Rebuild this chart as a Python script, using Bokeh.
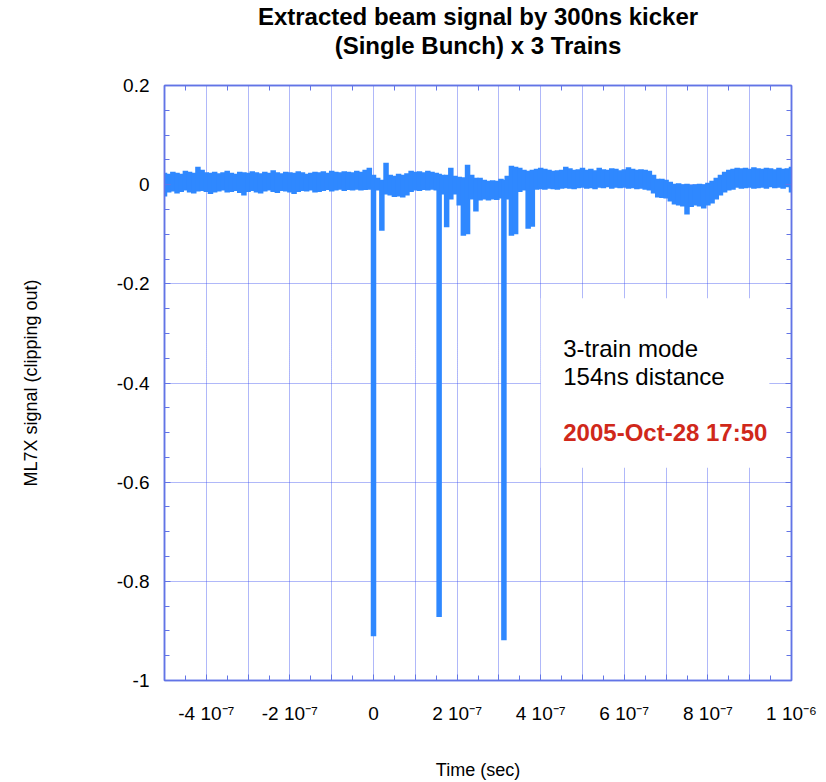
import numpy as np
from bokeh.plotting import figure
from bokeh.models import (LinearAxis, FixedTicker, CustomJSTickFormatter, Title,
                          BoxAnnotation, Label, ColumnDataSource)
from bokeh.embed import file_html
from bokeh.resources import INLINE

# ---- data: per time bin (ns), signal min / max envelope ----
time_ns = [
    -500, -490, -480, -470, -460, -450, -440, -430, -420, -410,
    -400, -390, -380, -370, -360, -350, -340, -330, -320, -310,
    -300, -290, -280, -270, -260, -250, -240, -230, -220, -210,
    -200, -190, -180, -170, -160, -150, -140, -130, -120, -110,
    -100, -90, -80, -70, -60, -50, -40, -30, -20, -10,
    0, 10, 20, 30, 40, 50, 60, 70, 80, 90,
    100, 110, 120, 130, 140, 150, 157, 165, 175, 185,
    195, 205, 215, 225, 235, 245, 255, 265, 275, 285,
    295, 305, 312, 320, 330, 340, 350, 360, 370, 380,
    390, 400, 410, 420, 430, 440, 450, 460, 470, 480,
    490, 500, 510, 520, 530, 540, 550, 560, 570, 580,
    590, 600, 610, 620, 630, 640, 650, 660, 670, 680,
    690, 700, 710, 720, 730, 740, 750, 760, 770, 780,
    790, 800, 810, 820, 830, 840, 850, 860, 870, 880,
    890, 900, 910, 920, 930, 940, 950, 960, 970, 980,
    990, 1000,
]
signal_min = [
    -0.024, -0.016, -0.014, -0.018, -0.015, -0.012, -0.016, -0.018, -0.014, -0.013,
    -0.015, -0.019, -0.016, -0.014, -0.012, -0.016, -0.015, -0.013, -0.017, -0.022,
    -0.015, -0.013, -0.016, -0.018, -0.014, -0.012, -0.015, -0.017, -0.013, -0.014,
    -0.016, -0.019, -0.015, -0.013, -0.014, -0.012, -0.016, -0.015, -0.013, -0.011,
    -0.014, -0.012, -0.010, -0.013, -0.011, -0.012, -0.010, -0.012, -0.011, -0.010,
    -0.911, -0.012, -0.093, -0.020, -0.022, -0.025, -0.024, -0.026, -0.022, -0.015,
    -0.012, -0.013, -0.011, -0.012, -0.010, -0.012, -0.872, -0.020, -0.086, -0.030,
    -0.020, -0.042, -0.103, -0.100, -0.030, -0.054, -0.032, -0.030, -0.032, -0.030,
    -0.031, -0.028, -0.919, -0.030, -0.103, -0.100, -0.015, -0.012, -0.089, -0.085,
    -0.010, -0.009, -0.010, -0.008, -0.009, -0.010, -0.008, -0.007, -0.008, -0.009,
    -0.007, -0.006, -0.008, -0.007, -0.009, -0.006, -0.007, -0.005, -0.008, -0.006,
    -0.007, -0.006, -0.008, -0.007, -0.009, -0.008, -0.010, -0.012, -0.018, -0.026,
    -0.027, -0.028, -0.034, -0.040, -0.042, -0.044, -0.060, -0.045, -0.042, -0.044,
    -0.048, -0.042, -0.038, -0.030, -0.022, -0.016, -0.012, -0.010, -0.006, -0.008,
    -0.007, -0.006, -0.008, -0.007, -0.006, -0.008, -0.005, -0.007, -0.006, -0.008,
    -0.005, -0.016,
]
signal_max = [
    0.024, 0.022, 0.026, 0.024, 0.022, 0.028, 0.026, 0.024, 0.036, 0.030,
    0.025, 0.024, 0.026, 0.023, 0.025, 0.028, 0.024, 0.022, 0.026, 0.025,
    0.024, 0.027, 0.025, 0.023, 0.026, 0.024, 0.029, 0.025, 0.023, 0.026,
    0.025, 0.024, 0.027, 0.025, 0.022, 0.024, 0.026, 0.025, 0.027, 0.024,
    0.028, 0.026, 0.025, 0.027, 0.026, 0.025, 0.028, 0.026, 0.030, 0.034,
    0.020, 0.014, 0.010, 0.044, 0.020, 0.018, 0.022, 0.020, 0.023, 0.028,
    0.026, 0.027, 0.025, 0.028, 0.026, 0.024, 0.022, 0.020, 0.020, 0.034,
    0.018, 0.016, 0.015, 0.040, 0.020, 0.014, 0.014, 0.010, 0.008, 0.009,
    0.008, 0.012, 0.010, 0.018, 0.038, 0.036, 0.034, 0.030, 0.028, 0.030,
    0.032, 0.034, 0.032, 0.030, 0.028, 0.029, 0.030, 0.036, 0.033, 0.030,
    0.031, 0.034, 0.030, 0.032, 0.029, 0.034, 0.031, 0.030, 0.033, 0.032,
    0.029, 0.031, 0.035, 0.032, 0.030, 0.031, 0.030, 0.028, 0.020, 0.012,
    0.012, 0.010, 0.006, 0.002, 0.003, 0.001, 0.002, 0.000, 0.001, 0.002,
    0.001, 0.004, 0.008, 0.014, 0.020, 0.026, 0.030, 0.032, 0.034, 0.033,
    0.034, 0.032, 0.035, 0.033, 0.032, 0.034, 0.033, 0.031, 0.034, 0.032,
    0.033, 0.036,
]

x_tick_ns = [-400, -200, 0, 200, 400, 600, 800, 1000]
x_tick_labels = ["-4 10\u207b\u2077", "-2 10\u207b\u2077", "0", "2 10\u207b\u2077",
                 "4 10\u207b\u2077", "6 10\u207b\u2077", "8 10\u207b\u2077", "1 10\u207b\u2076"]
y_tick_values = [0.2, 0.0, -0.2, -0.4, -0.6, -0.8, -1.0]
y_tick_labels = ["0.2", "0", "-0.2", "-0.4", "-0.6", "-0.8", "-1"]

title_lines = ["Extracted beam signal by 300ns kicker", "(Single Bunch) x 3 Trains"]
note_lines = ["3-train mode", "154ns distance"]
timestamp = "2005-Oct-28 17:50"

FONT = "Liberation Sans"
AXIS_BLUE = "#6274e6"
LINE_BLUE = "#2f88ff"

t_sec = np.array(time_ns) * 1e-9
src = ColumnDataSource(dict(t=t_sec, lo=signal_min, hi=signal_max))

p = figure(width=826, height=782, x_range=(-5e-7, 1e-6), y_range=(-1.0, 0.2),
           output_backend="svg", toolbar_location=None, title=None,
           min_border_left=164, min_border_right=35, min_border_top=85, min_border_bottom=101,
           x_axis_label="Time (sec)", y_axis_label="ML7X signal (clipping out)")
p.background_fill_color = "white"
p.border_fill_color = "white"
p.outline_line_color = AXIS_BLUE
p.outline_line_width = 1.5

x_ticker = FixedTicker(ticks=[round(i * 1e-7, 12) for i in range(-5, 11)],
                       minor_ticks=[round((i + 0.5) * 1e-7, 12) for i in range(-5, 10)])
y_ticker = FixedTicker(ticks=y_tick_values,
                       minor_ticks=[round(-1.0 + 0.05 * i, 6) for i in range(25)])

x_fmt = CustomJSTickFormatter(args=dict(ns=x_tick_ns, lab=x_tick_labels), code="""
    const n = Math.round(tick * 1e9);
    const i = ns.indexOf(n);
    return i < 0 ? '' : lab[i];
""")
y_fmt = CustomJSTickFormatter(args=dict(v=y_tick_values, lab=y_tick_labels), code="""
    for (let i = 0; i < v.length; i++) { if (Math.abs(v[i] - tick) < 1e-9) return lab[i]; }
    return '';
""")
blank_fmt = CustomJSTickFormatter(code="return '';")


def style_axis(ax):
    ax.axis_line_color = AXIS_BLUE
    ax.axis_line_width = 1.5
    ax.major_tick_line_color = AXIS_BLUE
    ax.minor_tick_line_color = AXIS_BLUE
    ax.major_tick_in = 6
    ax.major_tick_out = 0
    ax.minor_tick_in = 5
    ax.minor_tick_out = 0
    ax.major_label_text_font = FONT
    ax.major_label_text_font_size = "19px"
    ax.major_label_text_color = "black"
    ax.axis_label_text_font = FONT
    ax.axis_label_text_font_size = "18px"
    ax.axis_label_text_font_style = "normal"
    ax.axis_label_text_color = "black"


xa = p.xaxis[0]
ya = p.yaxis[0]
xa.ticker = x_ticker
xa.formatter = x_fmt
ya.ticker = y_ticker
ya.formatter = y_fmt
style_axis(xa)
style_axis(ya)
xa.major_label_standoff = 22
xa.axis_label_standoff = 33
ya.major_label_standoff = 15
ya.axis_label_standoff = 73

top_ax = LinearAxis(ticker=x_ticker, formatter=blank_fmt)
right_ax = LinearAxis(ticker=y_ticker, formatter=blank_fmt)
style_axis(top_ax)
style_axis(right_ax)
# top axis: major ticks hidden (grid lines mark them); the outward extent spaces the title
top_ax.major_tick_line_color = None
top_ax.major_tick_in = 0
top_ax.major_tick_out = 27
top_ax.major_label_standoff = 0
right_ax.major_label_standoff = 0
p.add_layout(top_ax, "above")
p.add_layout(right_ax, "right")

p.add_layout(Title(text=title_lines[1], align="center", text_font=FONT, text_font_size="24px",
                   text_font_style="bold", text_color="black", standoff=0), "above")
p.add_layout(Title(text=title_lines[0], align="center", text_font=FONT, text_font_size="24px",
                   text_font_style="bold", text_color="black", standoff=0), "above")

p.xgrid.ticker = x_ticker
p.ygrid.ticker = y_ticker
for g in (p.xgrid[0], p.ygrid[0]):
    g.grid_line_color = "#3a4ef0"
    g.grid_line_alpha = 0.8
    g.grid_line_width = 1
    g.grid_line_dash = "1 1"

# oscilloscope trace: one thick vertical stroke per time bin, from min to max
p.segment(x0="t", y0="lo", x1="t", y1="hi", source=src, line_width=5.5,
          line_color=LINE_BLUE, line_cap="butt")

# white note box hiding the grid
p.add_layout(BoxAnnotation(left=4.0e-7, right=9.47e-7, top=-0.229, bottom=-0.571,
                           fill_color="white", fill_alpha=1.0, line_color=None))
p.add_layout(Label(x=4.54e-7, y=-0.330, text=note_lines[0], text_font=FONT,
                   text_font_size="24px", text_color="black", text_baseline="alphabetic"))
p.add_layout(Label(x=4.54e-7, y=-0.386, text=note_lines[1], text_font=FONT,
                   text_font_size="24px", text_color="black", text_baseline="alphabetic"))
p.add_layout(Label(x=4.54e-7, y=-0.499, text=timestamp, text_font=FONT,
                   text_font_size="24px", text_font_style="bold", text_color="#d0281a",
                   text_baseline="alphabetic"))

open("out.html", "w").write(file_html(p, INLINE))
